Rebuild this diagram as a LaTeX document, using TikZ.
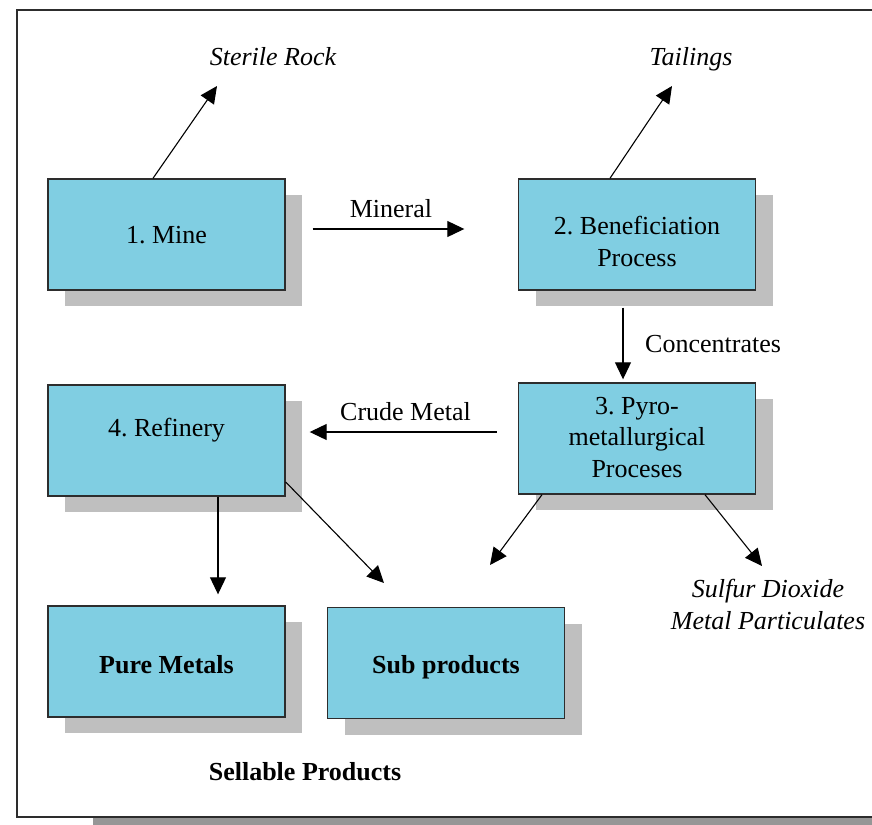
\documentclass[tikz,border=0pt]{standalone}
\usepackage{fontspec}
\setmainfont{Liberation Serif}
\usetikzlibrary{arrows.meta,shadows}
\definecolor{boxblue}{RGB}{128,206,226}
\definecolor{shadowgray}{RGB}{191,191,191}
\definecolor{frameshadow}{RGB}{150,150,150}
\definecolor{edgegray}{RGB}{45,45,45}
\frenchspacing
\begin{document}
\begin{tikzpicture}[x=1pt,y=-1pt,
  procbox/.style={draw=edgegray, line width=1.4pt, fill=boxblue,
    minimum width=237pt, minimum height=111pt, inner sep=0pt,
    drop shadow={shadow xshift=17pt, shadow yshift=-16pt, fill=shadowgray, opacity=1}},
  lbl/.style={font=\fontsize{26}{31.5}\selectfont, inner sep=0pt, anchor=base, align=center},
  arr/.style={-{Triangle[length=17pt,width=16pt]}, line width=1.1pt, black},
]
\useasboundingbox (0,0) rectangle (872,824);
\clip (0,0) rectangle (872,824);
\fill[white] (0,0) rectangle (872,824);
% outer frame with shadow
\fill[frameshadow] (93,810) rectangle (900,830);
\draw[draw=edgegray, line width=1.3pt, fill=white] (17,10) rectangle (900,817);

% boxes
\node[procbox] (b1) at (166.5,234.5) {};
\node[procbox] (b2) at (637,234.5) {};
\node[procbox] (b3) at (637,438.5) {};
\node[procbox] (b4) at (166.5,440.5) {};
\node[procbox] (bp) at (166.5,661.5) {};
\node[procbox] (bs) at (446,663) {};

% box texts (base anchor = baseline of the last line)
\node[lbl] (t1) at (166.5,243) {1. Mine};
\node[lbl] (t2) at (637,266) {2. Beneficiation\\Process};
\node[lbl] (t3) at (637,477) {3. Pyro-\\metallurgical\\Proceses};
\node[lbl] (t4) at (166.5,436) {4. Refinery};
\node[lbl, font=\fontsize{26}{31.5}\selectfont\bfseries] (tp) at (166.5,673) {Pure Metals};
\node[lbl, font=\fontsize{26}{31.5}\selectfont\bfseries] (ts) at (446,673) {Sub products};

% outer labels
\node[lbl, font=\fontsize{26}{31.5}\selectfont\itshape] (sterile) at (273,66) {Sterile Rock};
\node[lbl, font=\fontsize{26}{31.5}\selectfont\itshape] (tailings) at (691,66) {Tailings};
\node[lbl] (mineral) at (391,217) {Mineral};
\node[lbl, anchor=base west] (conc) at (645,352) {Concentrates};
\node[lbl] (crude) at (405.5,420) {Crude Metal};
\node[lbl, font=\fontsize{26}{31.5}\selectfont\itshape] (sulfur) at (768,629) {Sulfur Dioxide\\Metal Particulates};
\node[lbl, font=\fontsize{26}{31.5}\selectfont\bfseries] (sellable) at (305,780) {Sellable Products};

% free ends
\coordinate (srend) at (217,86);
\coordinate (taend) at (672,86);
\coordinate (subendA) at (384,583);
\coordinate (subendB) at (490,565);
\coordinate (sulend) at (762,566);

% connectors
\draw[arr] ([xshift=-13.5pt]b1.north) -- (srend);
\draw[arr] ([xshift=-27pt]b2.north) -- (taend);
\draw[arr] ([xshift=27pt,yshift=5.5pt]b1.east) -- ([xshift=-53.5pt,yshift=5.5pt]b2.west);
\draw[arr] ([xshift=-14pt,yshift=-17pt]b2.south) -- ([xshift=-14pt,yshift=3pt]b3.north);
\draw[arr] ([xshift=-21pt,yshift=6.5pt]b3.west) -- ([xshift=24pt,yshift=8.5pt]b4.east);
\draw[arr] ([xshift=51.5pt]b4.south) -- ([xshift=51.5pt,yshift=11pt]bp.north);
\draw[arr] ([yshift=-41.5pt]b4.east) -- (subendA);
\draw[arr] ([xshift=-95pt]b3.south) -- (subendB);
\draw[arr] ([xshift=68pt]b3.south) -- (sulend);
\end{tikzpicture}
\end{document}
